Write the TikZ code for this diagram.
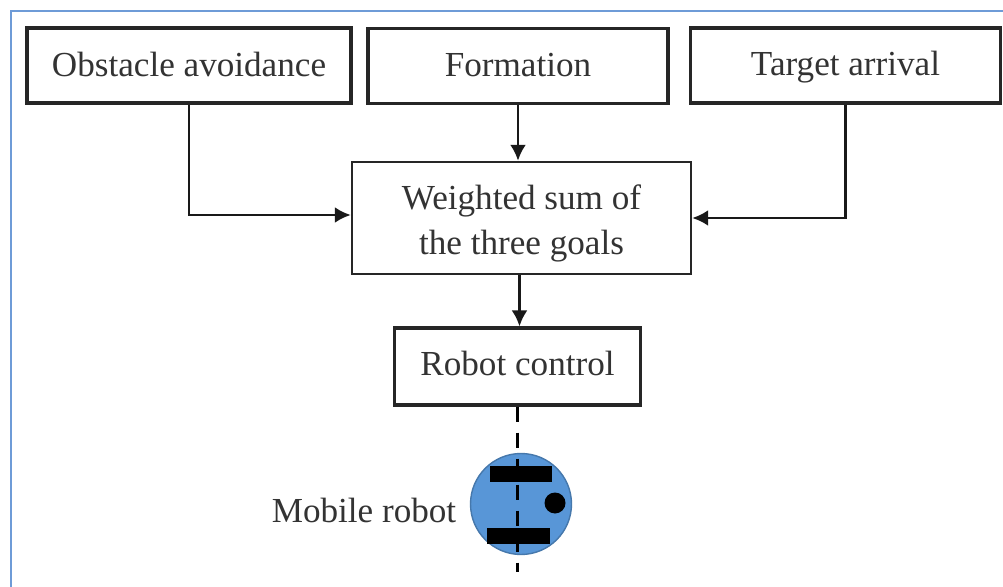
\documentclass[tikz,border=0pt]{standalone}
\usepackage{fontspec}
\setmainfont{Liberation Serif}
\usetikzlibrary{arrows.meta}
\definecolor{framecol}{RGB}{110,155,215}
\definecolor{robotcol}{RGB}{88,150,215}
\tikzset{
goalbox/.style={draw=black!85,line width=1.8pt,fill=white,minimum height=1.5cm,inner sep=0pt,align=center,font=\fontsize{20}{25.5}\selectfont,text=black!80},
link/.style={draw=black!90,line width=1.6pt,-{Latex[length=0.32cm,width=0.32cm]}},
wheel/.style={fill=black}
}
\begin{document}
\begin{tikzpicture}[x=0.02cm,y=-0.02cm]
\useasboundingbox (0,0) rectangle (1003,587);
\fill[white] (0,0) rectangle (1003,587);
\draw[framecol,line width=1.7pt] (11,587) -- (11,11) -- (1003,11);
\node[goalbox,minimum width=6.48cm,text height=15pt,text depth=3pt] (obstacle) at (189,65.5) {Obstacle avoidance};
\node[goalbox,minimum width=6cm,text height=15pt,text depth=3pt] (formation) at (518,66) {Formation};
\node[goalbox,minimum width=6.2cm,text height=14.6pt,text depth=3.4pt] (target) at (845.5,65.5) {Target arrival};
\node[goalbox,line width=1.4pt,minimum width=6.78cm,minimum height=2.24cm] (weighted) at (521.5,218) {\rule{0pt}{20pt}Weighted sum of\\the three goals};
\node[goalbox,minimum width=4.92cm,minimum height=1.54cm,text height=14pt,text depth=4pt] (control) at (517.5,366.5) {Robot control};
\node[font=\fontsize{20}{25}\selectfont,text=black!80] (robotlabel) at (364,510) {Mobile robot};
\node[circle,fill=robotcol,draw=robotcol!80!black,line width=0.8pt,minimum size=2.02cm,inner sep=0pt] (robot) at (521,504) {};
\coordinate (tail) at (517.5,572);
\draw[link] (obstacle.south) |- ([yshift=0.06cm]weighted.west);
\draw[link] (formation.south) -- (formation.south |- weighted.north);
\draw[link] (target.south) |- (weighted.east);
\draw[link] ([xshift=0.04cm]weighted.south -| control.south) -- ([xshift=0.04cm]control.north);
\draw[black,line width=1.8pt,dash pattern=on 0.3cm off 0.22cm] (control.south) -- (tail);
\fill[wheel] (490,466) rectangle (552,482);
\fill[wheel] (487,528) rectangle (550,544);
\fill[black] (555,503) circle (0.21cm);
\end{tikzpicture}
\end{document}
